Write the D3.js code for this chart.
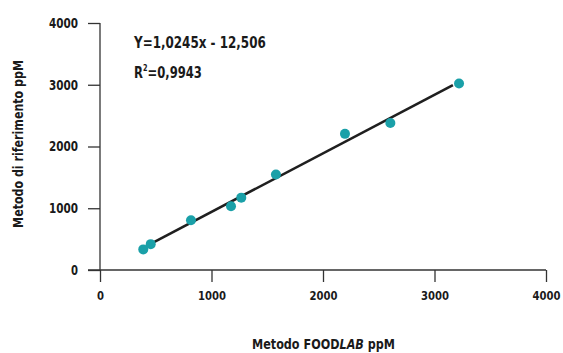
<!DOCTYPE html>
<html>
<head>
<meta charset="utf-8">
<script src="https://cdn.jsdelivr.net/npm/d3@7"></script>
<style>
  body { margin: 0; background: #fff; }
  text { font-family: "DejaVu Sans Condensed", "Liberation Sans Narrow", sans-serif; font-weight: bold; fill: #1a1a1a; }
</style>
</head>
<body>
<div id="chart"></div>
<script>
// data
const foodlab = [388, 455, 816, 1175, 1267, 1578, 2197, 2604, 3220];
const riferimento = [334, 419, 806, 1032, 1172, 1548, 2205, 2382, 3021];
const xTicks = [0, 1000, 2000, 3000, 4000];
const yTicks = [0, 1000, 2000, 3000, 4000];
const equation = "Y=1,0245x - 12,506";
const r2Value = "=0,9943";
const fitRange = [450, 3165];

const margin = {top: 23, right: 17, bottom: 83, left: 100},
  width = 563 - margin.left - margin.right,
  height = 353 - margin.top - margin.bottom;

const svg = d3.select("#chart")
  .append("svg")
    .attr("width", 563)
    .attr("height", 353)
  .append("g")
    .attr("transform", `translate(${margin.left}, ${margin.top})`);

const x = d3.scaleLinear().domain([0, 4000]).range([0, width]);
const y = d3.scaleLinear().domain([0, 4000]).range([height, 0]);

// squeeze a text horizontally to a given width (the original font is condensed)
function squeeze(sel, px, py, target, anchor) {
  const len = sel.node().getComputedTextLength();
  const k = target / len;
  sel.attr("transform", `translate(${px}, ${py}) scale(${k}, 1)`)
    .attr("text-anchor", anchor || "start");
}

// X axis
const xAxis = svg.append("g")
  .attr("transform", `translate(0, ${height})`)
  .call(d3.axisBottom(x).tickValues(xTicks).tickSize(12).tickPadding(9).tickFormat(d3.format("d")));
xAxis.selectAll("text").style("font-size", "12.5px")
  .attr("textLength", d => d ? 28 : 7).attr("lengthAdjust", "spacingAndGlyphs");

// Y axis
const yAxis = svg.append("g")
  .call(d3.axisLeft(y).tickValues(yTicks).tickSize(12).tickPadding(10).tickFormat(d3.format("d")));
yAxis.selectAll("text").style("font-size", "13.5px")
  .attr("textLength", d => d ? 29 : 7).attr("lengthAdjust", "spacingAndGlyphs");

[xAxis, yAxis].forEach(a => {
  a.select(".domain").remove();
  a.selectAll("line").attr("stroke", "#333").attr("stroke-width", 1.3);
  a.selectAll("text").attr("fill", "#1a1a1a");
});
svg.append("line")
  .attr("x1", -12).attr("x2", width).attr("y1", height).attr("y2", height)
  .attr("stroke", "#333").attr("stroke-width", 1.3);
svg.append("line")
  .attr("x1", 0).attr("x2", 0).attr("y1", 0).attr("y2", height)
  .attr("stroke", "#333").attr("stroke-width", 1.3);

// least squares line through the points (as drawn in the picture)
const mx = d3.mean(foodlab), my = d3.mean(riferimento);
const sxy = d3.sum(foodlab, (d, i) => (d - mx) * (riferimento[i] - my));
const sxx = d3.sum(foodlab, d => (d - mx) * (d - mx));
const slope = sxy / sxx, intercept = my - slope * mx;

svg.append("line")
  .attr("x1", x(fitRange[0])).attr("y1", y(slope * fitRange[0] + intercept))
  .attr("x2", x(fitRange[1])).attr("y2", y(slope * fitRange[1] + intercept))
  .attr("stroke", "#1f1f1f").attr("stroke-width", 2.6);

// points
svg.selectAll("circle")
  .data(foodlab.map((d, i) => [d, riferimento[i]]))
  .enter()
  .append("circle")
    .attr("cx", d => x(d[0]))
    .attr("cy", d => y(d[1]))
    .attr("r", 5)
    .attr("fill", "#1aa0a8");

// equation
const eq = svg.append("text")
  .style("font-size", "16px")
  .text(equation);
squeeze(eq, 34, 25, 132);

const r2 = svg.append("text")
  .style("font-size", "16px");
r2.append("tspan").text("R");
r2.append("tspan").attr("dy", -7).style("font-size", "9px").text("2");
r2.append("tspan").attr("dy", 7).text(r2Value);
squeeze(r2, 34, 55, 68);

// axis titles
const xl = svg.append("text")
  .style("font-size", "14px");
xl.append("tspan").text("Metodo FOOD");
xl.append("tspan").style("font-style", "italic").text("LAB");
xl.append("tspan").text(" ppM");
squeeze(xl, 223.5, height + 79, 143, "middle");

const yl = svg.append("text")
  .style("font-size", "14px")
  .text("Metodo di riferimento ppM");
yl.attr("text-anchor", "middle")
  .attr("transform", `translate(${-77}, ${height / 2 - 2.5}) rotate(-90) scale(${168 / yl.node().getComputedTextLength()}, 1)`);
</script>
</body>
</html>
